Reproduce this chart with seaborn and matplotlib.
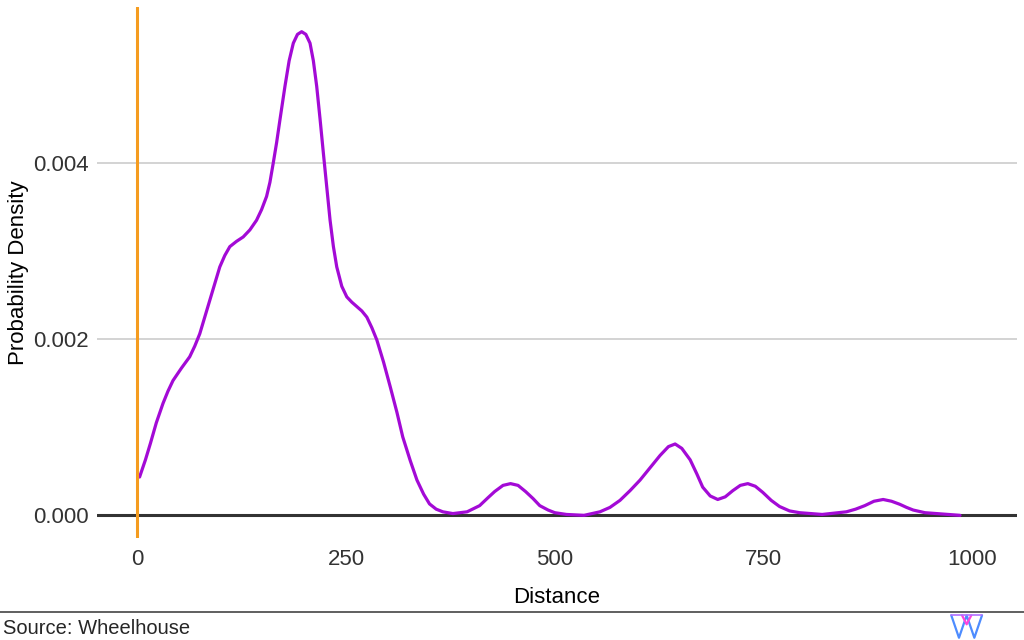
import seaborn as sns
import matplotlib.pyplot as plt
import pandas as pd
import numpy as np

# density curve (distance, density)
distance = [3, 10, 16, 23, 31, 37, 43, 53, 63, 69, 75, 81, 87, 93, 99, 105, 111, 119,
            127, 135, 143, 149, 155, 159, 163, 167, 171, 177, 182, 187, 192, 197, 202,
            207, 211, 215, 219, 223, 227, 231, 235, 239, 245, 251, 257, 263, 269, 275,
            281, 287, 295, 303, 311, 318, 327, 335, 343, 350, 358, 366, 378, 395, 410,
            420, 428, 438, 447, 456, 465, 474, 482, 492, 500, 514, 535, 554, 566, 578,
            590, 602, 614, 626, 636, 644, 652, 662, 670, 677, 686, 695, 704, 713, 722,
            731, 740, 749, 759, 769, 781, 793, 820, 849, 860, 871, 882, 893, 903, 913,
            921, 929, 943, 957, 985]
density = [0.000435, 0.00063, 0.000818, 0.00105, 0.00127, 0.00141, 0.00153, 0.00167,
           0.00180, 0.00192, 0.00206, 0.00225, 0.00244, 0.00263, 0.00282, 0.00295,
           0.00305, 0.00311, 0.00316, 0.00324, 0.00335, 0.00347, 0.00362, 0.00378,
           0.00400, 0.00423, 0.00449, 0.00487, 0.00516, 0.00536, 0.00546, 0.00549,
           0.00546, 0.00536, 0.00516, 0.00487, 0.00450, 0.00411, 0.00373, 0.00335,
           0.00305, 0.00282, 0.00260, 0.00248, 0.00242, 0.00237, 0.00232, 0.00225,
           0.00213, 0.00199, 0.00174, 0.00146, 0.00117, 0.00089, 0.00062, 0.00040,
           0.00024, 0.00013, 0.00007, 0.00004, 0.00002, 0.00004, 0.00011, 0.00020,
           0.00027, 0.00034, 0.00036, 0.00034, 0.00027, 0.00019, 0.00011, 0.00006,
           0.00003, 0.00001, 0.0, 0.00004, 0.00009, 0.00017, 0.00028, 0.00040, 0.00054,
           0.00068, 0.00078, 0.00081, 0.00076, 0.00063, 0.00047, 0.00032, 0.00022,
           0.00018, 0.00021, 0.00028, 0.00034, 0.00036, 0.00033, 0.00026, 0.00017,
           0.00010, 0.00005, 0.00003, 0.00001, 0.00004, 0.00007, 0.00011, 0.00016,
           0.00018, 0.00016, 0.000125, 0.00009, 0.00006, 0.00003, 0.00002, 0.0]
x_ticks = [0, 250, 500, 750, 1000]
y_ticks = [0.000, 0.002, 0.004]

df = pd.DataFrame({'Distance': distance, 'Density': density})

sns.set_theme(style='white')
plt.rcParams['font.family'] = ['Liberation Sans', 'DejaVu Sans']

fig = plt.figure(figsize=(10.24, 6.4), dpi=100)
ax = fig.add_axes([0.0947, 0.159, 0.8983, 0.830])

ax.axhline(0, color='#333333', lw=2.2, zorder=2)
ax.axvline(0, color='#F59C1F', lw=2.2, zorder=4)
sns.lineplot(data=df, x='Distance', y='Density', color='#A30AD6', lw=2.3, ax=ax,
             zorder=3, solid_joinstyle='round')

ax.set_xlim(-48, 1053)
ax.set_ylim(-0.00026, 0.00577)
ax.set_xticks(x_ticks)
ax.set_yticks(y_ticks)
ax.set_yticklabels([f'{v:.3f}' for v in y_ticks])
ax.yaxis.grid(True, color='#CCCCCC', lw=1.2)
ax.set_axisbelow(True)
for s in ax.spines.values():
    s.set_visible(False)
ax.tick_params(axis='x', length=0, labelsize=16, labelcolor='#333333', pad=8)
ax.tick_params(axis='y', length=0, labelsize=16, labelcolor='#333333', pad=6)
ax.set_xlabel('Distance', fontsize=16, color='black', labelpad=12)
ax.set_ylabel('Probability Density', fontsize=16, color='black')
ax.yaxis.set_label_coords(-0.074, 0.5)

# footer rule and source
fig.add_artist(plt.Line2D([0, 1], [0.044, 0.044], color='#444444', lw=1.2))
fig.text(0.003, 0.018, 'Source: Wheelhouse', fontsize=14.5, va='center', ha='left')

# small logo
lax = fig.add_axes([0.926, 0.0, 0.036, 0.042])
lax.plot([0, 0.25, 0.5, 0.75, 1], [1, 0, 1, 0, 1], color='#4D8CFF', lw=1.6)
lax.plot([0.35, 0.5, 0.65], [1, 0.6, 1], color='#FF44DD', lw=1.6)
lax.plot([0, 1], [1, 1], color='#B070FF', lw=1.2)
lax.set_xlim(-0.1, 1.1)
lax.set_ylim(-0.1, 1.1)
lax.axis('off')

fig.savefig('out.png', dpi=100)
